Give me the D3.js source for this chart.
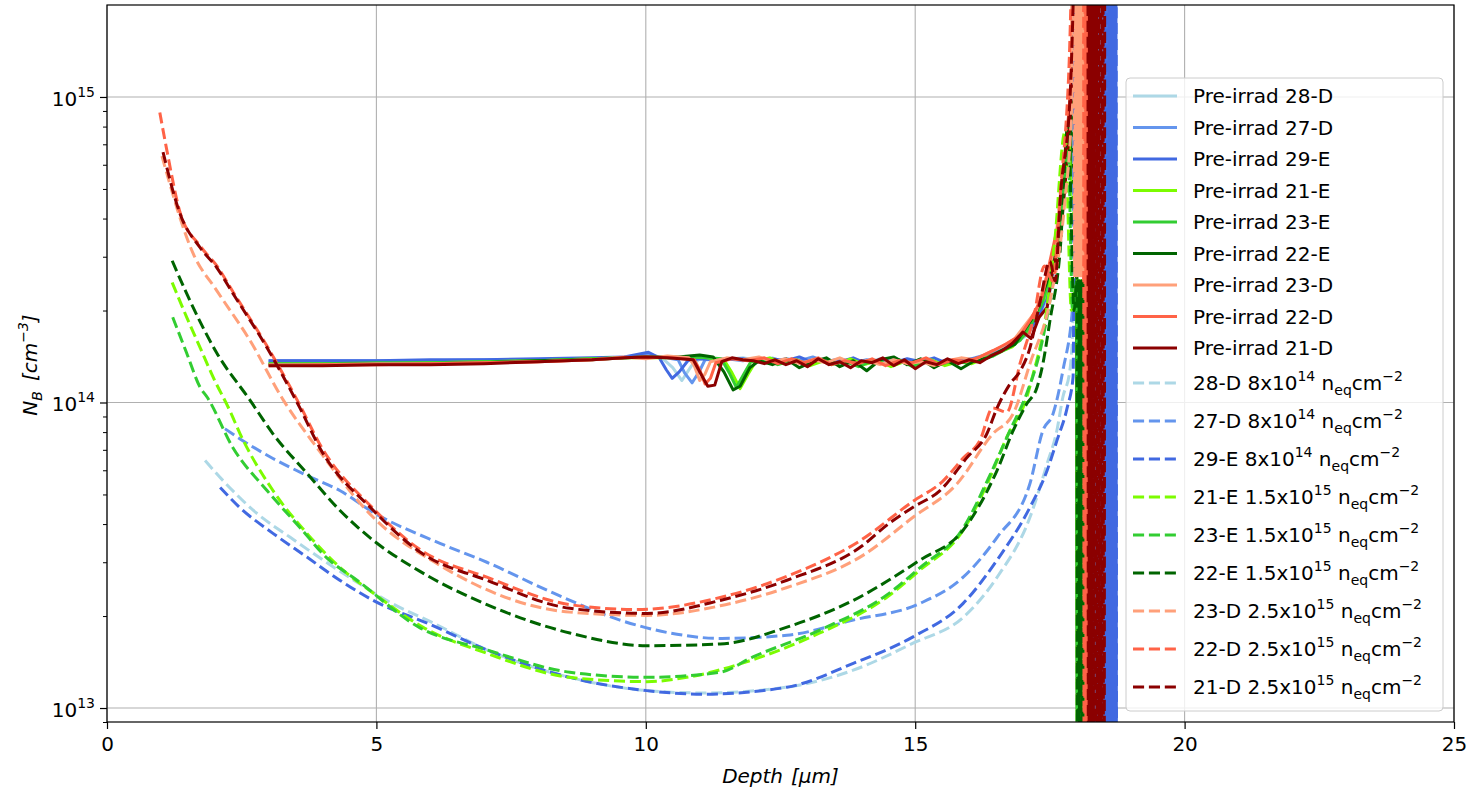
<!DOCTYPE html>
<html>
<head>
<meta charset="utf-8">
<script src="https://cdn.jsdelivr.net/npm/d3@7"></script>
<style>
  html, body { margin: 0; padding: 0; background: #ffffff; }
  svg { display: block; }
  text { font-family: "DejaVu Sans", sans-serif; }
</style>
</head>
<body>
<svg id="chart" width="1475" height="791"></svg>
<script>
// ---------------- DATA (N_B values in units of 1e14 cm^-3, depth in µm) ----------------
const UNIT = 1e14;
const xTicks = [0, 5, 10, 15, 20, 25];
const yMajorTicks = [1e13, 1e14, 1e15];
const yTickExp = ["13", "14", "15"];

const seriesNames = [
  "Pre-irrad 28-D", "Pre-irrad 27-D", "Pre-irrad 29-E",
  "Pre-irrad 21-E", "Pre-irrad 23-E", "Pre-irrad 22-E",
  "Pre-irrad 23-D", "Pre-irrad 22-D", "Pre-irrad 21-D",
  "28-D", "27-D", "29-E", "21-E", "23-E", "22-E", "23-D", "22-D", "21-D"
];
const fluenceMant = ["8", "8", "8", "1.5", "1.5", "1.5", "2.5", "2.5", "2.5"];
const fluenceExp = ["14", "14", "14", "15", "15", "15", "15", "15", "15"];
const seriesColors = [
  "#add8e6", "#6495ed", "#4169e1", "#7cfc00", "#32cd32", "#006400", "#ffa07a", "#ff6347", "#8b0000"
];

// pre-irradiation profiles
const pre28D = [[3.0,1.36],[4.0,1.36],[5.0,1.36],[6.0,1.37],[7.0,1.37],[8.0,1.38],[9.0,1.39],[9.6,1.40],[10.0,1.42],[10.3,1.40],[10.5,1.30],[10.67,1.18],[10.85,1.32],[11.0,1.39],[11.4,1.38],[11.8,1.40],[12.1,1.37],[12.35,1.40],[12.6,1.35],[12.85,1.39],[13.1,1.36],[13.35,1.38],[13.6,1.33],[13.85,1.37],[14.1,1.35],[14.35,1.39],[14.6,1.34],[14.85,1.37],[15.1,1.33],[15.35,1.37],[15.6,1.35],[15.85,1.39],[16.1,1.37],[16.35,1.42],[16.6,1.47],[16.85,1.55],[17.1,1.68],[17.3,1.90],[17.5,2.3],[17.65,3.2],[17.8,5.5],[17.92,12]];
const pre27D = [[3.0,1.37],[4.0,1.37],[5.0,1.37],[6.0,1.37],[7.0,1.38],[8.0,1.38],[9.0,1.39],[9.6,1.41],[10.0,1.43],[10.3,1.41],[10.6,1.38],[10.72,1.25],[10.86,1.16],[11.0,1.27],[11.1,1.38],[11.5,1.39],[11.8,1.37],[12.1,1.40],[12.35,1.36],[12.6,1.39],[12.85,1.37],[13.1,1.41],[13.35,1.36],[13.6,1.39],[13.85,1.35],[14.1,1.38],[14.35,1.36],[14.6,1.40],[14.85,1.35],[15.1,1.38],[15.35,1.34],[15.6,1.38],[15.85,1.36],[16.1,1.40],[16.35,1.44],[16.6,1.50],[16.85,1.58],[17.1,1.72],[17.3,1.95],[17.5,2.5],[17.65,3.5],[17.8,6.0],[17.92,14]];
const pre29E = [[3.0,1.37],[4.0,1.37],[5.0,1.37],[6.0,1.38],[7.0,1.38],[8.0,1.39],[9.0,1.40],[9.6,1.41],[10.05,1.46],[10.25,1.40],[10.38,1.28],[10.49,1.20],[10.62,1.26],[10.78,1.37],[11.0,1.39],[11.4,1.38],[11.8,1.39],[12.1,1.36],[12.35,1.39],[12.6,1.37],[12.85,1.41],[13.1,1.35],[13.35,1.38],[13.6,1.36],[13.85,1.40],[14.1,1.34],[14.35,1.38],[14.6,1.35],[14.85,1.39],[15.1,1.36],[15.35,1.40],[15.6,1.34],[15.85,1.38],[16.1,1.39],[16.35,1.43],[16.6,1.48],[16.85,1.56],[17.1,1.70],[17.3,1.92],[17.5,2.4],[17.65,3.4],[17.8,5.8],[17.92,13]];
const pre21E = [[3.0,1.34],[4.0,1.34],[5.0,1.34],[6.0,1.35],[7.0,1.36],[8.0,1.37],[9.0,1.39],[9.6,1.40],[10.0,1.40],[10.6,1.40],[11.0,1.41],[11.45,1.38],[11.6,1.25],[11.75,1.11],[11.9,1.24],[12.05,1.37],[12.3,1.40],[12.55,1.34],[12.8,1.38],[13.05,1.32],[13.3,1.37],[13.55,1.34],[13.8,1.39],[14.05,1.33],[14.3,1.37],[14.55,1.31],[14.8,1.36],[15.05,1.33],[15.3,1.38],[15.55,1.32],[15.8,1.36],[16.05,1.34],[16.3,1.40],[16.55,1.46],[16.8,1.52],[17.05,1.68],[17.25,1.95],[17.4,2.2],[17.55,3.0],[17.7,4.2],[17.85,7.7],[17.95,4.0]];
const pre23E = [[3.0,1.34],[4.0,1.34],[5.0,1.35],[6.0,1.35],[7.0,1.36],[8.0,1.37],[9.0,1.39],[9.6,1.40],[10.0,1.41],[10.6,1.40],[11.0,1.41],[11.4,1.39],[11.55,1.25],[11.68,1.12],[11.82,1.24],[11.95,1.36],[12.2,1.38],[12.45,1.33],[12.7,1.37],[12.95,1.34],[13.2,1.39],[13.45,1.33],[13.7,1.36],[13.95,1.31],[14.2,1.37],[14.45,1.34],[14.7,1.38],[14.95,1.31],[15.2,1.36],[15.45,1.33],[15.7,1.37],[15.95,1.35],[16.2,1.38],[16.45,1.42],[16.7,1.50],[16.95,1.60],[17.15,1.80],[17.35,2.1],[17.5,2.6],[17.65,3.6],[17.8,6.5],[17.92,10]];
const pre22E = [[3.0,1.33],[4.0,1.33],[5.0,1.34],[6.0,1.34],[7.0,1.35],[8.0,1.37],[9.0,1.38],[9.6,1.40],[10.0,1.41],[10.6,1.41],[11.0,1.43],[11.25,1.41],[11.45,1.26],[11.62,1.10],[11.75,1.13],[11.93,1.30],[12.1,1.37],[12.35,1.33],[12.6,1.39],[12.85,1.30],[13.1,1.36],[13.35,1.40],[13.6,1.31],[13.85,1.37],[14.1,1.27],[14.35,1.38],[14.6,1.41],[14.85,1.33],[15.1,1.39],[15.35,1.30],[15.6,1.37],[15.85,1.29],[16.1,1.37],[16.35,1.40],[16.6,1.48],[16.85,1.55],[17.05,1.75],[17.25,1.98],[17.45,2.5],[17.6,3.2],[17.75,5.2],[17.9,9]];
const pre23D = [[3.0,1.33],[4.0,1.33],[5.0,1.34],[6.0,1.34],[7.0,1.35],[8.0,1.36],[9.0,1.38],[9.6,1.41],[10.0,1.39],[10.4,1.42],[10.8,1.40],[10.9,1.32],[11.0,1.18],[11.1,1.24],[11.2,1.36],[11.5,1.40],[11.8,1.38],[12.1,1.41],[12.35,1.36],[12.6,1.39],[12.85,1.34],[13.1,1.38],[13.35,1.35],[13.6,1.40],[13.85,1.34],[14.1,1.37],[14.35,1.33],[14.6,1.38],[14.85,1.34],[15.1,1.36],[15.35,1.32],[15.6,1.37],[15.85,1.40],[16.1,1.38],[16.35,1.45],[16.6,1.52],[16.85,1.62],[17.05,1.80],[17.25,2.0],[17.45,2.6],[17.6,3.3],[17.75,5.8],[17.9,11]];
const pre22D = [[3.0,1.32],[4.0,1.33],[5.0,1.33],[6.0,1.34],[7.0,1.35],[8.0,1.36],[9.0,1.38],[9.6,1.40],[10.0,1.41],[10.5,1.40],[10.9,1.38],[11.0,1.28],[11.1,1.15],[11.2,1.20],[11.3,1.35],[11.6,1.39],[11.9,1.37],[12.2,1.40],[12.45,1.34],[12.7,1.39],[12.95,1.35],[13.2,1.40],[13.45,1.33],[13.7,1.37],[13.95,1.34],[14.2,1.39],[14.45,1.32],[14.7,1.37],[14.95,1.35],[15.2,1.40],[15.45,1.33],[15.7,1.38],[15.95,1.36],[16.2,1.41],[16.45,1.48],[16.7,1.56],[16.95,1.66],[17.15,1.88],[17.35,2.2],[17.5,2.9],[17.65,3.8],[17.8,6.8],[17.93,13]];
const pre21D = [[3.0,1.32],[4.0,1.32],[5.0,1.33],[6.0,1.33],[7.0,1.34],[8.0,1.36],[9.0,1.38],[9.6,1.40],[10.0,1.41],[10.4,1.40],[10.88,1.38],[11.0,1.26],[11.15,1.13],[11.28,1.14],[11.41,1.36],[11.6,1.40],[11.8,1.38],[12.0,1.37],[12.2,1.34],[12.4,1.38],[12.6,1.33],[12.8,1.37],[13.0,1.31],[13.2,1.39],[13.4,1.33],[13.6,1.36],[13.8,1.30],[14.0,1.37],[14.2,1.35],[14.4,1.40],[14.6,1.32],[14.8,1.38],[15.0,1.29],[15.2,1.36],[15.4,1.33],[15.6,1.39],[15.8,1.34],[16.0,1.38],[16.2,1.35],[16.4,1.42],[16.6,1.47],[16.8,1.56],[17.0,1.70],[17.15,1.62],[17.3,1.90],[17.45,2.05],[17.55,2.7],[17.7,3.5],[17.82,6.2],[17.93,12]];

// irradiated profiles
const irr28D = [[1.82,0.646],[2.15,0.556],[2.78,0.434],[3.40,0.362],[4.01,0.305],[4.64,0.258],[5.25,0.222],[6.05,0.190],[7.05,0.155],[8.59,0.126],[10.02,0.114],[11.06,0.112],[12.62,0.117],[13.85,0.133],[14.96,0.163],[15.89,0.198],[16.52,0.268],[17.13,0.421],[17.45,0.632],[17.63,0.81],[17.74,1.04],[17.87,1.27],[17.93,1.9],[17.98,1000]];
const irr27D = [[2.19,0.82],[2.47,0.76],[3.08,0.656],[3.71,0.577],[4.32,0.515],[4.94,0.437],[6.18,0.346],[7.05,0.300],[8.28,0.238],[9.52,0.194],[10.45,0.176],[11.38,0.169],[12.62,0.173],[13.85,0.194],[15.09,0.220],[15.89,0.268],[16.52,0.362],[17.13,0.543],[17.37,0.81],[17.56,0.92],[17.74,1.27],[17.93,2.15],[18.0,1000]];
const irr29E = [[2.10,0.527],[2.47,0.452],[3.08,0.373],[3.71,0.312],[4.32,0.262],[4.94,0.225],[5.99,0.188],[7.05,0.155],[8.59,0.126],[10.02,0.114],[11.06,0.111],[12.62,0.117],[13.85,0.140],[14.96,0.171],[15.89,0.220],[16.52,0.305],[17.13,0.454],[17.45,0.60],[17.63,0.75],[17.82,0.96],[17.93,1.21],[18.0,1000]];
const irr21E = [[1.21,2.47],[1.48,1.90],[1.73,1.51],[1.97,1.21],[2.28,0.94],[2.47,0.79],[3.08,0.515],[3.71,0.373],[4.32,0.289],[4.94,0.238],[5.86,0.184],[7.05,0.151],[8.59,0.126],[10.02,0.122],[10.76,0.126],[11.99,0.144],[13.23,0.176],[14.48,0.231],[15.09,0.283],[15.89,0.382],[16.39,0.569],[16.70,0.77],[17.07,1.04],[17.19,1.24],[17.41,1.85],[17.59,3.38],[17.78,7.7],[17.9,2.0]];
const irr23E = [[1.22,1.90],[1.48,1.45],[1.73,1.12],[1.86,1.04],[2.34,0.71],[2.97,0.515],[3.58,0.39],[4.08,0.31],[4.64,0.262],[5.81,0.183],[7.05,0.155],[8.59,0.131],[10.02,0.126],[11.38,0.131],[11.99,0.147],[13.23,0.18],[14.48,0.235],[15.09,0.288],[15.89,0.388],[16.39,0.58],[16.76,0.81],[17.07,1.07],[17.32,1.48],[17.5,2.15],[17.69,3.6],[17.84,6.7],[17.92,2.0]];
const irr22E = [[1.21,2.91],[1.48,2.27],[2.04,1.45],[2.65,1.02],[3.08,0.79],[3.71,0.587],[4.32,0.444],[4.94,0.354],[5.81,0.280],[7.05,0.218],[8.59,0.176],[10.02,0.160],[11.38,0.162],[12.62,0.184],[13.85,0.225],[15.09,0.305],[15.89,0.382],[16.52,0.60],[16.82,0.81],[17.07,0.99],[17.26,1.12],[17.37,1.34],[17.5,1.85],[17.69,3.14],[17.84,8.3],[17.95,2.0]];
const irr23D = [[1.02,6.4],[1.60,3.07],[2.04,2.32],[2.65,1.60],[3.27,1.02],[3.90,0.71],[4.94,0.421],[6.18,0.293],[8.59,0.206],[10.02,0.201],[11.38,0.216],[12.62,0.248],[14.03,0.316],[14.96,0.421],[15.78,0.543],[16.44,0.79],[16.82,0.92],[17.13,1.34],[17.5,2.15],[17.78,4.6],[17.9,9]];
const irr22D = [[0.98,8.9],[1.11,6.7],[1.355,4.2],[1.73,3.25],[2.04,2.8],[2.34,2.3],[2.97,1.53],[3.58,0.98],[3.95,0.73],[4.94,0.45],[5.81,0.33],[7.05,0.268],[8.59,0.218],[9.84,0.21],[11.38,0.23],[12.62,0.27],[14.0,0.355],[14.96,0.475],[15.5,0.55],[15.9,0.66],[16.2,0.75],[16.44,0.96],[16.7,0.93],[16.95,1.35],[17.2,1.9],[17.4,2.8],[17.55,2.5],[17.7,5],[17.85,12]];
const irr21D = [[1.04,6.6],[1.355,4.15],[1.73,3.21],[2.04,2.76],[2.34,2.27],[2.97,1.51],[3.58,0.96],[3.95,0.71],[4.94,0.444],[5.81,0.324],[7.05,0.262],[8.59,0.212],[10.02,0.204],[11.38,0.225],[12.62,0.262],[14.03,0.341],[14.5,0.40],[14.96,0.454],[15.46,0.515],[15.96,0.66],[16.33,0.79],[16.52,0.96],[16.76,1.15],[16.95,1.27],[17.13,1.51],[17.32,2.15],[17.5,2.9],[17.6,2.5],[17.69,4.6],[17.87,9.7]];

// beyond ~18 µm the extracted N_B diverges: values jump between far off-scale highs and lows
const tailGreen   = [18.00,18.02,18.04,18.06,18.08,18.10,18.12];
const tailSalmon  = [17.94,17.96,17.98,18.00,18.02,18.04,18.06,18.08,18.10,18.12];
const tailTomato  = [18.12,18.14,18.16,18.18,18.20];
const tailDarkRed = [18.20,18.22,18.24,18.26,18.28,18.30,18.32,18.34,18.36,18.38,18.40,18.42,18.44,18.46,18.48,18.50,18.52];
const tailRoyal   = [18.52,18.54,18.56,18.58,18.60,18.62,18.64,18.66,18.68,18.70,18.72,18.74];
const tailLight   = [18.46,18.48,18.50,18.52,18.54];
const tailCorn    = [18.30,18.34,18.38,18.42,18.46,18.50,18.54];
const tailRangeFull  = [0.001, 1000];
const tailRangeGreen = [0.001, 2.5];
const tailRangeUpper = [2.6, 1000];

const mainData = [pre28D, pre27D, pre29E, pre21E, pre23E, pre22E, pre23D, pre22D, pre21D,
                  irr28D, irr27D, irr29E, irr21E, irr23E, irr22E, irr23D, irr22D, irr21D];
const tailDepths = [tailLight, tailCorn, tailRoyal, tailGreen, tailGreen, tailGreen, tailSalmon, tailTomato, tailDarkRed,
                    tailLight, tailCorn, tailRoyal, tailGreen, tailGreen, tailGreen, tailSalmon, tailTomato, tailDarkRed];
const tailRanges = [tailRangeFull, tailRangeFull, tailRangeFull, tailRangeGreen, tailRangeGreen, tailRangeGreen, tailRangeUpper, tailRangeFull, tailRangeFull,
                    tailRangeFull, tailRangeFull, tailRangeFull, tailRangeGreen, tailRangeGreen, tailRangeGreen, tailRangeUpper, tailRangeFull, tailRangeFull];

// ---------------- CHART ----------------
const svg = d3.select("#chart");
const W = 1475, H = 791;
const margin = {left: 107, top: 5, right: 21, bottom: 69};
const x = d3.scaleLinear().domain([0, 25]).range([margin.left, W - margin.right]);
const y = d3.scaleLog().domain([9e12, 2e15]).range([H - margin.bottom, margin.top]);
const FS = 20;
const LW = 3;
const DASH = "11.1,4.8";

svg.append("defs").append("clipPath").attr("id", "clip")
  .append("rect").attr("x", margin.left).attr("y", margin.top)
  .attr("width", W - margin.left - margin.right).attr("height", H - margin.top - margin.bottom);

// grid
const grid = svg.append("g").attr("stroke", "#b0b0b0").attr("stroke-width", 1.1);
xTicks.forEach(t => grid.append("line").attr("x1", x(t)).attr("x2", x(t)).attr("y1", margin.top).attr("y2", H - margin.bottom));
yMajorTicks.forEach(t => grid.append("line").attr("x1", margin.left).attr("x2", W - margin.right).attr("y1", y(t)).attr("y2", y(t)));

// lines
const lineRaw = d3.line().x(d => x(d[0])).y(d => y(d[1] * UNIT));
const lineSmooth = d3.line().curve(d3.curveMonotoneX).x(d => x(d[0])).y(d => y(d[1] * UNIT));
const plot = svg.append("g").attr("clip-path", "url(#clip)");
mainData.forEach((pts, i) => {
  const rng = tailRanges[i];
  const tail = tailDepths[i].map((d, k) => [d, k % 2 === 0 ? rng[1] : rng[0]]);
  const dashed = i >= 9;
  const all = pts.concat(tail);
  plot.append("path")
    .datum(all)
    .attr("d", dashed ? lineSmooth : lineRaw)
    .attr("fill", "none")
    .attr("stroke", seriesColors[i % 9])
    .attr("stroke-width", LW)
    .attr("stroke-linejoin", "round")
    .attr("stroke-dasharray", dashed ? DASH : null);
});

// axes
const xAxis = d3.axisBottom(x).tickValues(xTicks).tickSize(7).tickPadding(8).tickFormat(d3.format("d"));
const gx = svg.append("g").attr("transform", `translate(0,${H - margin.bottom})`).call(xAxis);
gx.select(".domain").remove();
gx.selectAll("line").attr("stroke", "#000").attr("stroke-width", 1.2);
gx.selectAll("text").attr("font-size", FS).attr("font-family", "DejaVu Sans").attr("fill", "#000");

const minorVals = [];
[1e12, 1e13, 1e14].forEach(dec => [2,3,4,5,6,7,8,9].forEach(m => {
  const v = m * dec; if (v >= 9e12 && v <= 2e15) minorVals.push(v);
}));
const gyMinor = svg.append("g").attr("transform", `translate(${margin.left},0)`)
  .call(d3.axisLeft(y).tickValues(minorVals).tickSize(4).tickFormat(""));
gyMinor.select(".domain").remove();
gyMinor.selectAll("line").attr("stroke", "#000").attr("stroke-width", 1);

const gy = svg.append("g").attr("transform", `translate(${margin.left},0)`)
  .call(d3.axisLeft(y).tickValues(yMajorTicks).tickSize(7).tickPadding(8).tickFormat(""));
gy.select(".domain").remove();
gy.selectAll("line").attr("stroke", "#000").attr("stroke-width", 1.2);
gy.selectAll(".tick").each(function(d, i) {
  const t = d3.select(this).select("text")
    .attr("font-size", FS).attr("fill", "#000").attr("dy", "0.42em").attr("x", -12);
  t.text(null);
  t.append("tspan").text("10");
  t.append("tspan").attr("dy", -9).attr("font-size", 14).text(yTickExp[i]);
});

// spines
svg.append("rect").attr("x", margin.left).attr("y", margin.top)
  .attr("width", W - margin.left - margin.right).attr("height", H - margin.top - margin.bottom)
  .attr("fill", "none").attr("stroke", "#000").attr("stroke-width", 1.2);

// axis labels
const xl = svg.append("text").attr("x", (margin.left + W - margin.right) / 2).attr("y", 783)
  .attr("text-anchor", "middle").attr("font-size", FS).attr("font-style", "italic");
xl.append("tspan").text("Depth");
xl.append("tspan").attr("dx", 8).text("[μm]");

const yl = svg.append("text").attr("transform", "translate(37,365) rotate(-90)")
  .attr("text-anchor", "middle").attr("font-size", FS).attr("font-style", "italic");
yl.append("tspan").text("N");
yl.append("tspan").attr("dy", 5).attr("font-size", 14).text("B");
yl.append("tspan").attr("dy", -5).attr("dx", 10).text("[cm");
yl.append("tspan").attr("dy", -9).attr("font-size", 14).text("−3");
yl.append("tspan").attr("dy", 9).text("]");

// legend
const lg = svg.append("g");
lg.append("rect").attr("x", 1126).attr("y", 78).attr("width", 317).attr("height", 633)
  .attr("rx", 4).attr("fill", "#fff").attr("fill-opacity", 0.8).attr("stroke", "#cccccc").attr("stroke-width", 1);
seriesNames.forEach((name, i) => {
  const yy = i < 9 ? 96 + i * 31.5 : 383 + (i - 9) * 38;
  lg.append("line").attr("x1", 1133).attr("x2", 1177).attr("y1", yy).attr("y2", yy)
    .attr("stroke", seriesColors[i % 9]).attr("stroke-width", LW)
    .attr("stroke-dasharray", i >= 9 ? DASH : null);
  const t = lg.append("text").attr("x", 1193).attr("y", yy + 7).attr("font-size", FS).attr("fill", "#000");
  if (i < 9) {
    t.text(name);
  } else {
    const k = i - 9;
    t.append("tspan").text(`${name} ${fluenceMant[k]}x10`);
    t.append("tspan").attr("dy", -9).attr("font-size", 14).text(fluenceExp[k]);
    t.append("tspan").attr("dy", 9).text(" n");
    t.append("tspan").attr("dy", 5).attr("font-size", 14).text("eq");
    t.append("tspan").attr("dy", -5).text("cm");
    t.append("tspan").attr("dy", -9).attr("font-size", 14).text("−2");
  }
});
</script>
</body>
</html>
